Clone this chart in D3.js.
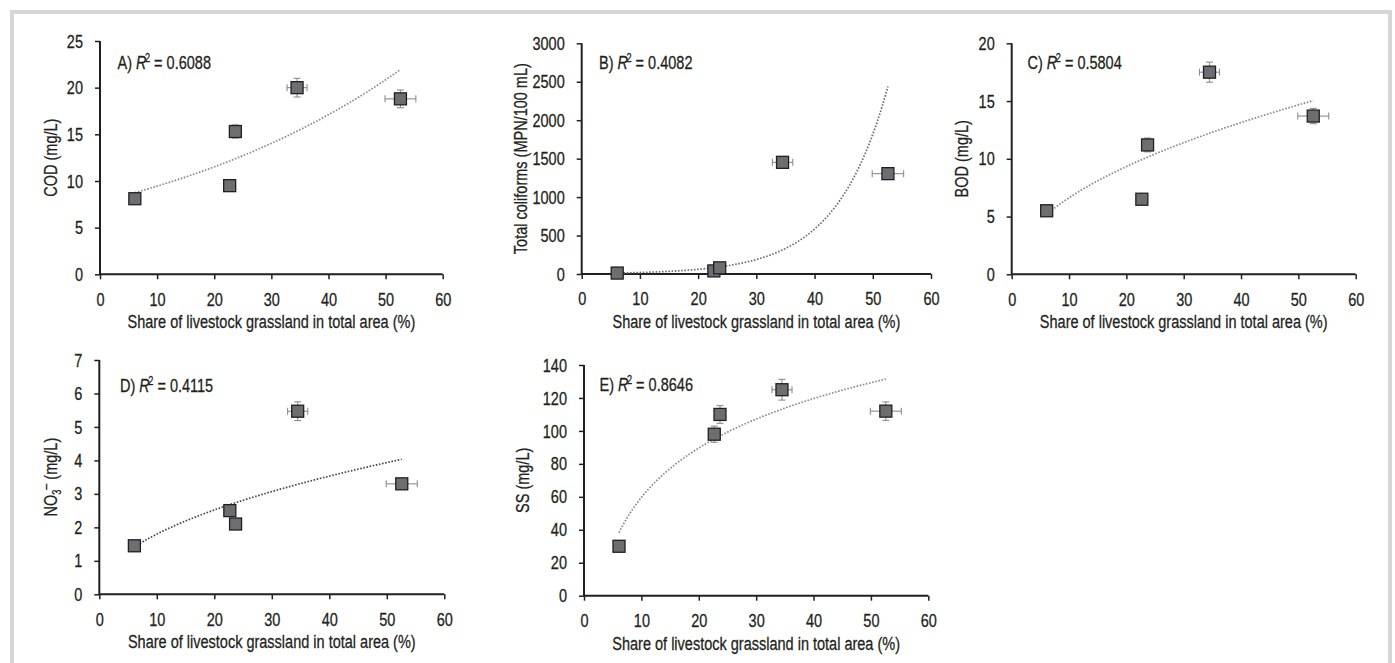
<!DOCTYPE html>
<html>
<head>
<meta charset="utf-8">
<script src="https://cdn.jsdelivr.net/npm/d3@7"></script>
<style>
  html, body { margin: 0; padding: 0; background: #fff; }
  svg { display: block; }
  text { font-family: "Liberation Sans", Arial, sans-serif; fill: #231f20; stroke: #231f20; stroke-width: 0.3px; }
</style>
</head>
<body>
<svg id="chart" width="1395" height="663"></svg>
<script>
// ---------------- DATA ----------------
const grassShare   = [6.1, 22.7, 23.7, 34.5, 52.6];
const grassShareErr = [0.3, 0.4, 0.4, 1.75, 2.7];

const codValues = [8.1, 9.5, 15.3, 20.0, 18.8];
const codErr    = [0.3, 0.3, 0.7, 1.0, 0.95];

const coliformValues = [12, 40, 80, 1452, 1305];
const coliformErr    = [5, 10, 20, 20, 20];

const bodValues = [5.5, 6.5, 11.2, 17.5, 13.7];
const bodErr    = [0.3, 0.3, 0.6, 0.87, 0.66];

const no3Values = [1.45, 2.5, 2.1, 5.47, 3.3];
const no3Err    = [0.05, 0.08, 0.15, 0.28, 0.1];

const ssValues = [30, 98, 110, 125, 112];
const ssErr    = [1, 4.9, 5.4, 6.3, 5.6];

const panelLetters = ["A", "B", "C", "D", "E"];
const r2Labels     = ["0.6088", "0.4082", "0.5804", "0.4115", "0.8646"];
const trendTypes   = ["exp", "exp", "pow", "pow", "log"];
const yTitles      = ["COD (mg/L)", "Total coliforms (MPN/100 mL)", "BOD (mg/L)", "NO3- (mg/L)", "SS (mg/L)"];
const yMax         = [25, 3000, 20, 7, 140];
const yStep        = [5, 500, 5, 1, 20];
const xTicks       = [0, 10, 20, 30, 40, 50, 60];
const xTitle       = "Share of livestock grassland in total area (%)";

const seriesValues = [codValues, coliformValues, bodValues, no3Values, ssValues];
const seriesErrs   = [codErr, coliformErr, bodErr, no3Err, ssErr];

// ---------------- LAYOUT ----------------
const layout = [
  {x0: 100,   x1: 442.7,  y0: 274.3, y1: 41,   tOff: 50, r2x: 117.5,  r2y: 69,    trend: "#8a8a8a"},
  {x0: 581.7, x1: 931,    y0: 274,   y1: 43.3, tOff: 61, r2x: 599,    r2y: 69,    trend: "#6e6e6e"},
  {x0: 1011.7,x1: 1355.7, y0: 274.3, y1: 43.3, tOff: 50, r2x: 1027.5, r2y: 69,    trend: "#8a8a8a"},
  {x0: 99.3,  x1: 444.3,  y0: 594.3, y1: 360,  tOff: 49, r2x: 120,    r2y: 391.5, trend: "#4a4a4a"},
  {x0: 584,   x1: 928.3,  y0: 595.7, y1: 365,  tOff: 62, r2x: 599.5,  r2y: 391,   trend: "#8a8a8a"}
];

const FS = 19;
const INK = "#231f20";
const svg = d3.select("#chart");

// frame
svg.append("rect").attr("x", 12).attr("y", 12).attr("width", 1378).attr("height", 662)
  .attr("fill", "none").attr("stroke", "#d6d6d6").attr("stroke-width", 4);

// horizontal condensing factor, to mimic a condensed typeface
const probe = svg.append("text").attr("font-size", FS).text(xTitle);
const SX = 288 / probe.node().getComputedTextLength();
probe.remove();

function condenseAxisText(g) {
  g.selectAll("text").each(function () {
    const t = d3.select(this);
    const x = +t.attr("x") || 0;
    t.attr("x", x / SX).attr("transform", `scale(${SX},1)`);
  });
}

function fit(type, xs, ys) {
  let X = xs.slice(), Y = ys.slice();
  if (type === "exp") Y = ys.map(Math.log);
  if (type === "pow") { X = xs.map(Math.log); Y = ys.map(Math.log); }
  if (type === "log") X = xs.map(Math.log);
  const mx = d3.mean(X), my = d3.mean(Y);
  const b = d3.sum(X, (v, i) => (v - mx) * (Y[i] - my)) / d3.sum(X, v => (v - mx) ** 2);
  const a = my - b * mx;
  if (type === "exp") return x => Math.exp(a + b * x);
  if (type === "pow") return x => Math.exp(a + b * Math.log(x));
  return x => a + b * Math.log(x);
}

layout.forEach((L, p) => {
  const vals = seriesValues[p], errs = seriesErrs[p];
  const x = d3.scaleLinear().domain([0, 60]).range([L.x0, L.x1]);
  const y = d3.scaleLinear().domain([0, yMax[p]]).range([L.y0, L.y1]);
  const g = svg.append("g");

  // axes
  const yAx = g.append("g").attr("transform", `translate(${L.x0},0)`)
    .call(d3.axisLeft(y).tickValues(d3.range(0, yMax[p] + yStep[p] / 2, yStep[p])).tickSize(5).tickPadding(12).tickFormat(d3.format("d")));
  const xAx = g.append("g").attr("transform", `translate(0,${L.y0})`)
    .call(d3.axisBottom(x).tickValues(xTicks).tickSize(5).tickPadding(13).tickFormat(d3.format("d")));
  [yAx, xAx].forEach(ax => {
    ax.select(".domain").attr("stroke", INK).attr("stroke-width", 2);
    ax.selectAll(".tick line").attr("stroke", INK).attr("stroke-width", 1.5);
    ax.selectAll("text").attr("font-size", FS).attr("font-family", null).attr("fill", INK);
    condenseAxisText(ax);
  });
  yAx.select(".domain").attr("d", `M0,${L.y0}V${L.y1}`);
  xAx.select(".domain").attr("d", `M${L.x0},0H${L.x1}`);

  // axis titles
  g.append("text")
    .attr("transform", `translate(${(L.x0 + L.x1) / 2},${L.y0 + 54}) scale(${SX},1)`)
    .attr("text-anchor", "middle").attr("font-size", FS).text(xTitle);

  const yt = g.append("text")
    .attr("transform", `translate(${L.x0 - L.tOff},${(L.y0 + L.y1) / 2}) rotate(-90) scale(${SX},1)`)
    .attr("text-anchor", "middle").attr("dy", "0.35em").attr("font-size", FS);
  if (yTitles[p] === "NO3- (mg/L)") {
    yt.append("tspan").text("NO");
    yt.append("tspan").attr("font-size", 12).attr("dy", 4).text("3");
    yt.append("tspan").attr("font-size", 14).attr("dy", -11).text("\u2013");
    yt.append("tspan").attr("dy", 7).text(" (mg/L)");
  } else {
    yt.text(yTitles[p]);
  }

  // R² label
  const rl = g.append("text")
    .attr("transform", `translate(${L.r2x},${L.r2y}) scale(${SX},1)`)
    .attr("font-size", FS);
  rl.append("tspan").text(panelLetters[p] + ") ");
  rl.append("tspan").attr("font-style", "italic").text("R");
  rl.append("tspan").attr("font-size", 12).attr("dy", -7).attr("dx", -2).text("2");
  rl.append("tspan").attr("dy", 7).text(" = " + r2Labels[p]);

  // trend line
  const f = fit(trendTypes[p], grassShare, vals);
  const [xmin, xmax] = d3.extent(grassShare);
  const pts = d3.range(0, 101).map(i => xmin + (xmax - xmin) * i / 100);
  g.append("path")
    .attr("d", d3.line().x(d => x(d)).y(d => y(f(d)))(pts))
    .attr("fill", "none").attr("stroke", L.trend).attr("stroke-width", 1.7)
    .attr("stroke-dasharray", "1.6 1.6");

  // error bars
  const eb = g.append("g").attr("stroke", "#8c8c8c").attr("stroke-width", 1.1);
  const cap = 3.5;
  grassShare.forEach((xv, i) => {
    const cx = x(xv), cy = y(vals[i]);
    const xl = x(xv - grassShareErr[i]), xr = x(xv + grassShareErr[i]);
    const yt2 = y(vals[i] + errs[i]), yb = y(vals[i] - errs[i]);
    eb.append("line").attr("x1", xl).attr("x2", xr).attr("y1", cy).attr("y2", cy);
    eb.append("line").attr("x1", xl).attr("x2", xl).attr("y1", cy - cap).attr("y2", cy + cap);
    eb.append("line").attr("x1", xr).attr("x2", xr).attr("y1", cy - cap).attr("y2", cy + cap);
    eb.append("line").attr("x1", cx).attr("x2", cx).attr("y1", yt2).attr("y2", yb);
    eb.append("line").attr("x1", cx - cap).attr("x2", cx + cap).attr("y1", yt2).attr("y2", yt2);
    eb.append("line").attr("x1", cx - cap).attr("x2", cx + cap).attr("y1", yb).attr("y2", yb);
  });

  // markers
  const s = 12;
  g.append("g").selectAll("rect").data(grassShare).join("rect")
    .attr("x", d => x(d) - s / 2)
    .attr("y", (d, i) => y(vals[i]) - s / 2)
    .attr("width", s).attr("height", s)
    .attr("fill", "#6d6e71").attr("stroke", INK).attr("stroke-width", 1.3);
});
</script>
</body>
</html>
